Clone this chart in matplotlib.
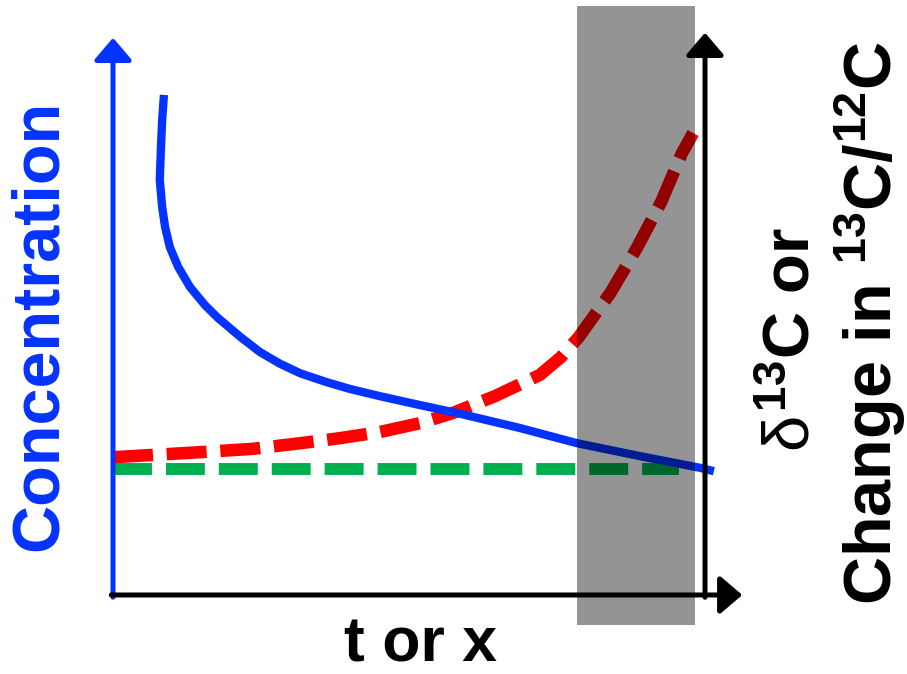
import matplotlib.pyplot as plt
from matplotlib.patches import Rectangle

plt.rcParams['font.family'] = ['Liberation Sans', 'DejaVu Sans']
plt.rcParams['mathtext.fontset'] = 'custom'
plt.rcParams['mathtext.rm'] = 'Liberation Sans:bold'
plt.rcParams['mathtext.bf'] = 'Liberation Sans:bold'
plt.rcParams['mathtext.it'] = 'Liberation Sans'

# schematic curves (x: t or x, 0..10 ; y: 0..10)
conc_x = [0.86, 0.83, 0.81, 0.79, 0.83, 0.88, 0.96, 1.10, 1.30, 1.55, 1.77, 2.15,
          2.48, 2.82, 3.16, 3.61, 4.00, 4.51, 5.19, 5.81, 6.88, 7.84, 8.90, 9.92, 10.15]
conc_y = [8.93, 8.48, 8.00, 7.41, 6.93, 6.57, 6.21, 5.86, 5.50, 5.18, 4.95, 4.61,
          4.34, 4.13, 3.96, 3.80, 3.68, 3.55, 3.39, 3.25, 2.98, 2.71, 2.48, 2.27, 2.21]

delta_x = [0, 1.47, 2.36, 3.16, 3.83, 4.51, 5.19, 5.74, 6.45, 7.21, 7.57, 7.87, 8.40,
           8.85, 9.26, 9.61, 9.80]
delta_y = [2.46, 2.55, 2.61, 2.71, 2.80, 2.91, 3.07, 3.25, 3.55, 3.93, 4.25, 4.61, 5.39,
           6.20, 7.02, 7.89, 8.25]

base_x = [0, 9.56]
base_y = [2.25, 2.25]

# shaded zone
zone_x = [7.84, 9.83]
zone_y = [-0.54, 10.52]

blue = '#0433ff'

fig = plt.figure(figsize=(9.07, 6.74), dpi=100)
ax = fig.add_axes([0, 0, 1, 1])
ax.set_xlim(-1.909, 13.412)
ax.set_ylim(-1.411, 10.625)
ax.axis('off')

arrow = '-|>,head_length=0.68,head_width=0.58'
ax.annotate('', xy=(0, 9.95), xytext=(0, -0.04),
            arrowprops=dict(arrowstyle=arrow, color=blue, lw=3.6, mutation_scale=20,
                            shrinkA=0, shrinkB=0))
ax.annotate('', xy=(10.63, 0), xytext=(-0.03, 0),
            arrowprops=dict(arrowstyle=arrow, color='black', lw=3.6, mutation_scale=20,
                            shrinkA=0, shrinkB=0))
ax.annotate('', xy=(10.0, 10.04), xytext=(10.0, -0.04),
            arrowprops=dict(arrowstyle=arrow, color='black', lw=3.6, mutation_scale=20,
                            shrinkA=0, shrinkB=0))

ax.plot(base_x, base_y, color='#00b050', lw=8.6, linestyle=(0, (3.26, 1.17)),
        dash_capstyle='butt')
ax.plot(delta_x, delta_y, color='#ff0000', lw=9, linestyle=(0, (3.2, 1.1)),
        dash_capstyle='butt', solid_joinstyle='round')
ax.plot(conc_x, conc_y, color=blue, lw=6, solid_capstyle='butt', solid_joinstyle='round')

ax.add_patch(Rectangle((zone_x[0], zone_y[0]), zone_x[1] - zone_x[0], zone_y[1] - zone_y[0],
                       facecolor='black', alpha=0.42, edgecolor='none', zorder=5))

ax.text(-1.23, 4.82, 'Concentration', color=blue, fontsize=48, fontweight='bold',
        rotation=90, ha='center', va='center')
ax.text(5.19, -1.19, 't or x', color='black', fontsize=45, fontweight='bold',
        ha='center', va='baseline')
ax.text(11.47, 4.57, r'$\delta^{13}$C or', color='black', fontsize=47, fontweight='bold',
        rotation=90, ha='center', va='center')
ax.text(12.79, 4.86, r'Change in $^{13}$C/$^{12}$C', color='black', fontsize=48,
        fontweight='bold', rotation=90, ha='center', va='center')

fig.savefig('out.png', dpi=100)
